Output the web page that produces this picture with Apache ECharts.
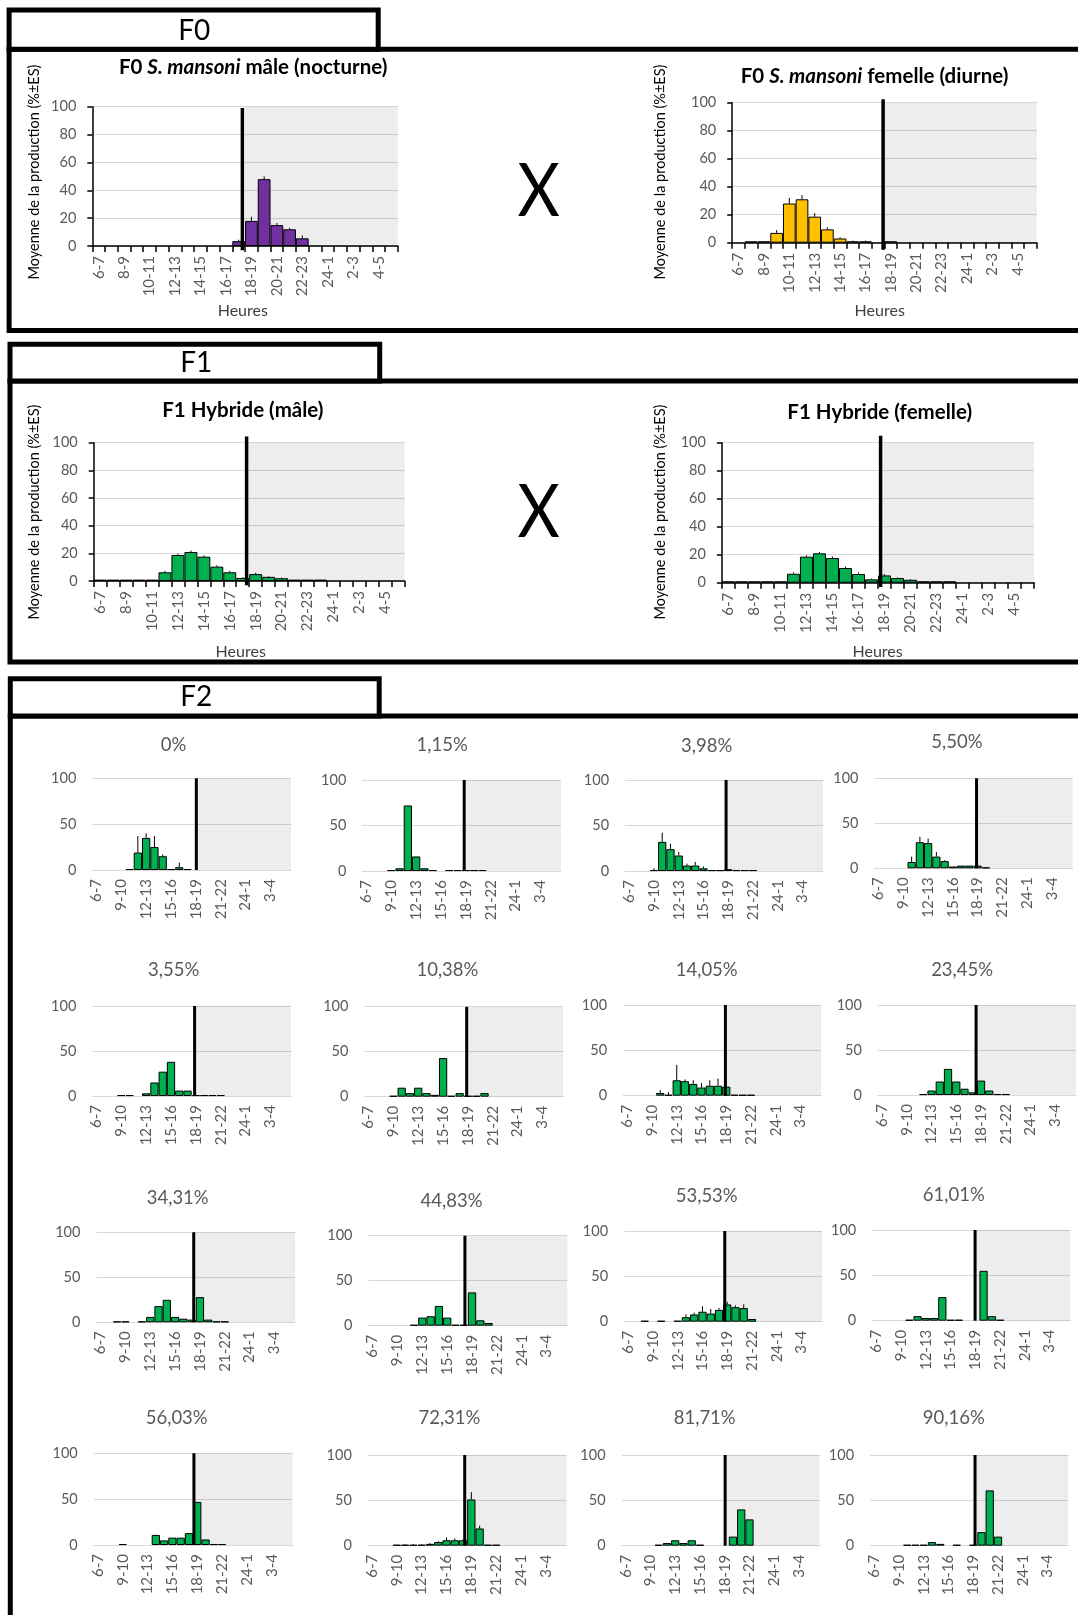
<!DOCTYPE html>
<html><head><meta charset="utf-8">
<script src="https://cdn.jsdelivr.net/npm/echarts@6/dist/echarts.min.js"></script>
<style>html,body{margin:0;padding:0;background:#fff}#c{width:1078px;height:1615px}</style>
</head><body><div id="c"></div>
<script>
// ---------- DATA ----------
const hours = ['6-7','7-8','8-9','9-10','10-11','11-12','12-13','13-14','14-15','15-16','16-17','17-18',
  '18-19','19-20','20-21','21-22','22-23','23-24','24-1','1-2','2-3','3-4','4-5','5-6'];

const f0MaleVals   = [0,0,0,0,0,0,0,0,0,0,0,3.5,18,48,15,12,5.5,0,0,0,0,0,0,0];
const f0MaleErr    = [0,0,0,0,0,0,0,0,0,0,0,1,3,2,1.5,1,2,0,0,0,0,0,0,0];
const f0FemaleVals = [0,1,1,7,28,31,18.6,9.5,3,1,1,0,1,0,0,0,0,0,0,0,0,0,0,0];
const f0FemaleErr  = [0,0,0,2,4,3,2.5,1.5,1,0.5,0.5,0,0,0,0,0,0,0,0,0,0,0,0,0];
const f1MaleVals   = [1,1,1,1,1,6.3,18.8,21,17.6,10.4,6.3,2.2,5,3,2,1,1,1,0,0,0,0,0,0];
const f1MaleErr    = [0,0,0,0,0,1,1,1,1,1,1,0.5,1,0.5,0.5,0,0,0,0,0,0,0,0,0];
const f1FemaleVals = [1,1,1,1,1,6.4,18.6,21,17.6,10.5,6.2,2.4,5.2,3.3,2.1,1,1,1,0,0,0,0,0,0];
const f1FemaleErr  = [0,0,0,0,0,1,1,1,1,1,1,0.5,1,0.5,0.5,0,0,0,0,0,0,0,0,0];

const f2Titles = ['0%','1,15%','3,98%','5,50%','3,55%','10,38%','14,05%','23,45%',
  '34,31%','44,83%','53,53%','61,01%','56,03%','72,31%','81,71%','90,16%'];
const f2p01 = [0,0,0,0,1,19,35,25,15,1,3,1,0,0,0,0,0,0,0,0,0,0,0,0];
const f2e01 = [0,0,0,0,0,18,5,12,2,0,5,0,0,0,0,0,0,0,0,0,0,0,0,0];
const f2p02 = [0,0,0,1,3,72,16,3,1,0,1,1,1,1,1,0,0,0,0,0,0,0,0,0];
const f2e02 = [0,0,0,0,0,0,0,0,0,0,0,0,0,0,0,0,0,0,0,0,0,0,0,0];
const f2p03 = [0,0,0,1,32,24,17,6,6,3,1,1,2,1,1,1,0,0,0,0,0,0,0,0];
const f2e03 = [0,0,0,2,10,6,4,2,4,2,0,0,0,0,0,0,0,0,0,0,0,0,0,0];
const f2p04 = [0,0,0,0,7,29,28,13,8,2,3,3,3,1,0,0,0,0,0,0,0,0,0,0];
const f2e04 = [0,0,0,0,6,6,5,5,1,0,0,0,0,0,0,0,0,0,0,0,0,0,0,0];
const f2p05 = [0,0,0,1,1,0,3,15,27,38,6,6,1,1,1,1,0,0,0,0,0,0,0,0];
const f2e05 = [0,0,0,0,0,0,0,0,0,0,0,0,0,0,0,0,0,0,0,0,0,0,0,0];
const f2p06 = [0,0,0,1,10,4,10,4,2,43,1,4,1,1,4,0,0,0,0,0,0,0,0,0];
const f2e06 = [0,0,0,0,0,0,0,0,0,0,0,0,0,0,0,0,0,0,0,0,0,0,0,0];
const f2p07 = [0,0,0,0,3,1,17,16,13,9,11,11,10,1,1,1,0,0,0,0,0,0,0,0];
const f2e07 = [0,0,0,0,3,3,17,2,4,5,6,8,0,0,0,0,0,0,0,0,0,0,0,0];
const f2p08 = [0,0,0,0,0,1,5,15,29,15,7,3,16,5,1,1,0,0,0,0,0,0,0,0];
const f2e08 = [0,0,0,0,0,0,0,0,0,0,0,0,0,0,0,0,0,0,0,0,0,0,0,0];
const f2p09 = [0,0,1,1,0,1,6,18,25,6,4,3,28,3,1,1,0,0,0,0,0,0,0,0];
const f2e09 = [0,0,0,0,0,0,0,0,0,0,0,0,0,0,0,0,0,0,0,0,0,0,0,0];
const f2p10 = [0,0,0,0,0,1,9,10.5,22,9,1,1,37,6,3,0,0,0,0,0,0,0,0,0];
const f2e10 = [0,0,0,0,0,0,0,0,0,0,0,0,0,0,0,0,0,0,0,0,0,0,0,0];
const f2p11 = [0,0,1,0,1,0,1,5,8,11,9,13,19,16,15,3,0,0,0,0,0,0,0,0];
const f2e11 = [0,0,0,0,0,0,0,3,2,6,5,2,3,2,4,0,0,0,0,0,0,0,0,0];
const f2p12 = [0,0,0,0,1,5,3,3,26,1,1,0,0,55,5,1,0,0,0,0,0,0,0,0];
const f2e12 = [0,0,0,0,0,0,0,0,0,0,0,0,0,0,0,0,0,0,0,0,0,0,0,0];
const f2p13 = [0,0,0,1,0,0,0,11,5,8,8,13,47,6,1,1,0,0,0,0,0,0,0,0];
const f2e13 = [0,0,0,0,0,0,0,0,0,0,0,0,0,0,0,0,0,0,0,0,0,0,0,0];
const f2p14 = [0,0,0,1,1,1,1,2,4,6,6,6,51,19,1,1,0,0,0,0,0,0,0,0];
const f2e14 = [0,0,0,0,1,1,1,1,1,3,2,1,8,3,0,0,0,0,0,0,0,0,0,0];
const f2p15 = [0,0,0,0,1,3,6,3,6,1,0,0,0,10,40,29,0,0,0,0,0,0,0,0];
const f2e15 = [0,0,0,0,0,0,0,0,0,0,0,0,0,0,0,0,0,0,0,0,0,0,0,0];
const f2p16 = [0,0,0,0,1,1,1,4,2,0,1,0,1,15,61,10,0,0,0,0,0,0,0,0];
const f2e16 = [0,0,0,0,0,0,0,0,0,0,0,0,0,0,0,0,0,0,0,0,0,0,0,0];

// position of the black "night start" marker, in category units from the axis start
const bigNightLine = [11.79, 11.89, 11.8, 12.2];
const f2NightLine = [12.56,12.3,12.24,12.37,12.35,12.35,12.4,11.9,11.75,11.64,12.2,12.47,12.1,11.7,12.55,12.72];

// ---------- BUILD ----------
const FONT = 'Lato, "Liberation Sans", sans-serif';
const f2Vals = [f2p01,f2p02,f2p03,f2p04,f2p05,f2p06,f2p07,f2p08,f2p09,f2p10,f2p11,f2p12,f2p13,f2p14,f2p15,f2p16];
const f2Errs = [f2e01,f2e02,f2e03,f2e04,f2e05,f2e06,f2e07,f2e08,f2e09,f2e10,f2e11,f2e12,f2e13,f2e14,f2e15,f2e16];

const grids = [], xAxes = [], yAxes = [], series = [];

function errRender(params, api) {
  const p0 = api.coord([api.value(0), api.value(1)]);
  const p1 = api.coord([api.value(0), api.value(2)]);
  return {type: 'line', shape: {x1: p0[0], y1: p0[1], x2: p1[0], y2: p1[1]},
    style: {stroke: '#000', lineWidth: 1}};
}

function addPanel(rect, vals, errs, color, linePos, lineBottom, lineTop, shadeStart, shadeTop, big) {
  const gi = grids.length;
  grids.push({left: rect[0], top: rect[1], width: rect[2], height: rect[3], containLabel: false, outerBoundsMode: 'none'});
  const cx = xAxes.length;
  xAxes.push({
    type: 'category', gridIndex: gi, data: hours, boundaryGap: true,
    axisLine: {show: true, lineStyle: big ? {color: '#000', width: 1.5} : {color: '#d9d9d9', width: 1}},
    axisTick: {show: big, interval: 0, length: 6, lineStyle: {color: '#000', width: 1.5}},
    axisLabel: {interval: big ? 1 : 2, rotate: 90, fontSize: 15, color: '#595959', margin: big ? 10 : 9, fontFamily: FONT},
    splitLine: {show: false}
  });
  xAxes.push({type: 'value', gridIndex: gi, min: 0, max: 24, show: false});
  yAxes.push({
    type: 'value', gridIndex: gi, min: 0, max: 100, interval: big ? 20 : 50,
    axisLine: {show: big, lineStyle: {color: '#000', width: 1.5}},
    axisTick: {show: big, length: 5, lineStyle: {color: '#000', width: 1.5}},
    axisLabel: {fontSize: 14.5, color: '#595959', margin: 16, fontFamily: FONT},
    splitLine: {show: true, lineStyle: {color: '#d9d9d9', width: 1}}
  });
  series.push({
    type: 'line', xAxisIndex: cx + 1, yAxisIndex: gi, data: [[shadeStart, 0]], symbol: 'none', showSymbol: false,
    lineStyle: {opacity: 0}, silent: true, clip: false, z: 1,
    markArea: {silent: true, itemStyle: {color: 'rgba(0,0,0,0.07)'},
      data: [[{xAxis: shadeStart, yAxis: 0}, {xAxis: 24, yAxis: shadeTop}]]}
  });
  series.push({
    type: 'bar', xAxisIndex: cx, yAxisIndex: gi, data: vals.map(v => v > 0 ? v : '-'),
    barCategoryGap: '0%', barGap: '0%', silent: true, z: 3,
    itemStyle: {color: color, borderColor: '#000', borderWidth: 1}
  });
  const errData = [];
  vals.forEach((v, k) => { if (errs[k] > 0) errData.push([k, v, v + errs[k]]); });
  series.push({type: 'custom', xAxisIndex: cx, yAxisIndex: gi, data: errData, renderItem: errRender, z: 4, silent: true, clip: false});
  series.push({
    type: 'line', xAxisIndex: cx + 1, yAxisIndex: gi, data: [[linePos, lineBottom], [linePos, lineTop]],
    symbol: 'none', showSymbol: false, lineStyle: {color: '#000', width: big ? 3.5 : 3}, z: 6, clip: false, silent: true
  });
}

// big panels
addPanel([92.3, 106.7, 305.5, 139.3], f0MaleVals, f0MaleErr, '#7030A0', bigNightLine[0], -3, 99, 12.0, 100.5, true);
addPanel([732.2, 102.7, 304.6, 140], f0FemaleVals, f0FemaleErr, '#FFC000', bigNightLine[1], -5, 102.4, 11.95, 102, true);
addPanel([93.7, 442.7, 311, 138.3], f1MaleVals, f1MaleErr, '#00B050', bigNightLine[2], -3, 104.5, 11.96, 105.5, true);
addPanel([721.9, 442.7, 312.2, 140], f1FemaleVals, f1FemaleErr, '#00B050', bigNightLine[3], -3, 105, 12.4, 105, true);

// F2 panels
const f2Rects = [
  [92.3, 778.3, 198.8, 91.7], [362.3, 780, 198.8, 91], [625.1, 780, 198, 91], [874.5, 778.3, 198, 90],
  [92.3, 1006, 198.8, 90], [364.4, 1006.7, 198.8, 90], [623.1, 1005, 198, 90.7], [877.9, 1005, 198, 90],
  [96.4, 1232.3, 198.8, 90], [368.5, 1235.7, 198.8, 90], [624.1, 1231, 198, 90.7], [872.2, 1230, 198, 90.7],
  [93.7, 1453.3, 198.8, 91.7], [367.8, 1455, 198.8, 90.7], [621.6, 1455, 198, 90.7], [870.1, 1455, 198, 90.7]
];
const f2TitlePos = [[173.6,745],[442.2,745],[706.7,746],[956.9,742],[173.6,970],[447.4,970],[706.7,970],[962.1,970],
  [177.7,1198],[451.5,1201],[706.7,1196],[953.8,1195],[176.7,1418],[449.4,1418],[704.7,1418],[953.8,1418]];
f2Vals.forEach((vals, i) => {
  addPanel(f2Rects[i], vals, f2Errs[i], '#00B050', f2NightLine[i], 0, 100, f2NightLine[i], 100, false);
});

// ---------- GRAPHICS (frames & texts) ----------
const graphic = [];
function frame(left, labelTop, labelRight, frameTop, frameBottom) {
  graphic.push({type: 'rect', shape: {x: left, y: frameTop, width: 1200, height: frameBottom - frameTop},
    style: {fill: 'none', stroke: '#000', lineWidth: 5}, silent: true, z: 50});
  graphic.push({type: 'rect', shape: {x: left, y: labelTop, width: labelRight - left, height: frameTop - labelTop},
    style: {fill: '#fff', stroke: '#000', lineWidth: 5}, silent: true, z: 50});
}
frame(9.1, 10, 378.2, 49.2, 330.5);
frame(10, 344.2, 379.7, 381, 662);
frame(10.3, 678.8, 379.2, 716, 1800);

function txt(x, y, text, size, color, opts) {
  const o = Object.assign({weight: 'normal', rot: 0, rich: null, sx: 1}, opts || {});
  const style = {text: text, x: 0, y: 0, fill: color, fontSize: size, fontFamily: FONT, fontWeight: o.weight,
    align: 'center', verticalAlign: 'middle'};
  if (o.rich) style.rich = o.rich;
  graphic.push({type: 'text', x: x, y: y, rotation: o.rot, scaleX: o.sx, style: style, silent: true, z: 60});
}
txt(194.2, 31, 'F0', 28, '#000');
txt(196.3, 363, 'F1', 28, '#000');
txt(196.3, 697, 'F2', 28, '#000');
txt(538.6, 192, 'X', 74, '#000', {sx: 0.88});
txt(538.6, 513, 'X', 74, '#000', {sx: 0.88});

const richT = {
  b: {fontSize: 20.5, fontWeight: 'bold', fontFamily: FONT, fill: '#000'},
  i: {fontSize: 20.5, fontWeight: 'bold', fontStyle: 'italic', fontFamily: FONT, fill: '#000'}
};
txt(253.1, 67, '{b|F0 }{i|S. mansoni}{b| mâle (nocturne)}', 20.5, '#000', {rich: richT});
txt(874.5, 76, '{b|F0 }{i|S. mansoni}{b| femelle (diurne)}', 20.5, '#000', {rich: richT});
txt(242.8, 410, 'F1 Hybride (mâle)', 20.5, '#000', {weight: 'bold'});
txt(879.7, 412, 'F1 Hybride (femelle)', 20.5, '#000', {weight: 'bold'});

const yTitle = 'Moyenne de la production (%±ES)';
txt(34.1, 172, yTitle, 14.5, '#000', {rot: Math.PI / 2});
txt(660.4, 172, yTitle, 14.5, '#000', {rot: Math.PI / 2});
txt(34.1, 512, yTitle, 14.5, '#000', {rot: Math.PI / 2});
txt(660.4, 512, yTitle, 14.5, '#000', {rot: Math.PI / 2});

txt(242.8, 311, 'Heures', 16, '#404040');
txt(879.7, 311, 'Heures', 16, '#404040');
txt(240.7, 652, 'Heures', 16, '#404040');
txt(877.6, 652, 'Heures', 16, '#404040');

f2Titles.forEach((t, i) => txt(f2TitlePos[i][0], f2TitlePos[i][1], t, 18.5, '#595959'));

const chart = echarts.init(document.getElementById('c'), null, {renderer: 'canvas', width: 1078, height: 1615});
chart.setOption({
  animation: false,
  backgroundColor: '#fff',
  textStyle: {fontFamily: FONT},
  grid: grids, xAxis: xAxes, yAxis: yAxes, series: series, graphic: graphic
});
</script>
</body></html>
